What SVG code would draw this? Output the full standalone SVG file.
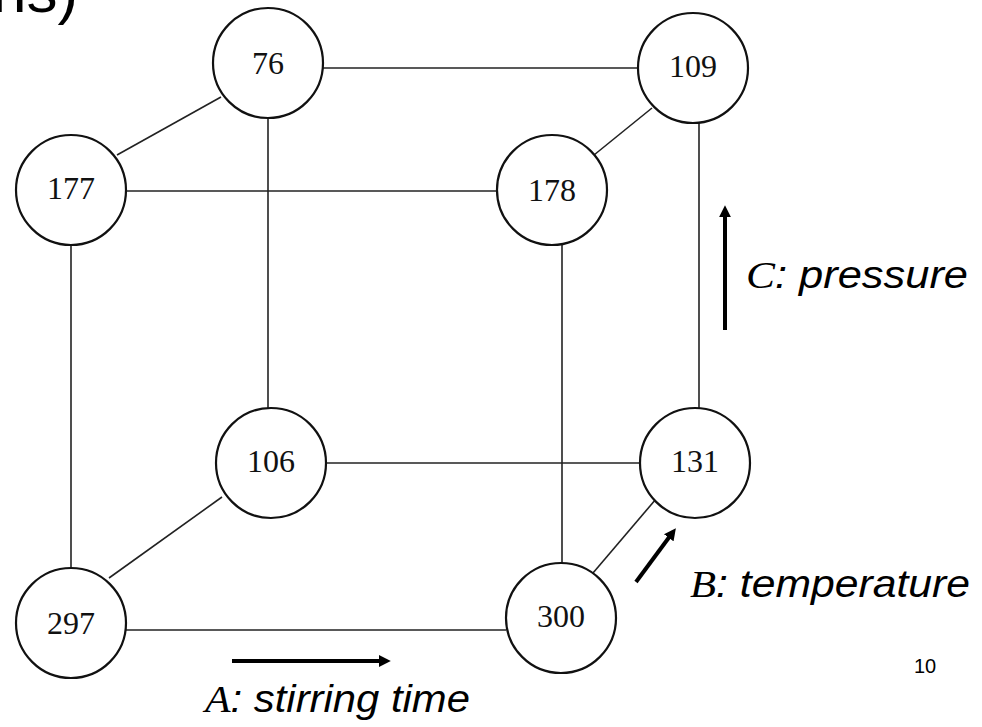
<svg xmlns="http://www.w3.org/2000/svg" width="982" height="727" viewBox="0 0 982 727">
<defs>
<style>
.node circle{fill:#fff;stroke:#111;stroke-width:2.2}
.node text{font-family:"Liberation Serif",serif;font-size:32px;fill:#111;text-anchor:middle;dominant-baseline:central}
.edge{stroke:#222;stroke-width:1.6;fill:none}
.axis{stroke:#000;stroke-width:4;fill:none}
.lbl{font-family:"Liberation Sans",Arial,sans-serif;font-style:italic;font-size:38px;fill:#000}
.var{font-family:"Liberation Serif",serif;font-style:italic}
</style>
<marker id="ah" viewBox="0 0 10 10" refX="6" refY="5" markerWidth="3" markerHeight="3" orient="auto" markerUnits="strokeWidth">
<path d="M0,0 L10,5 L0,10 z" fill="#000"/>
</marker>
</defs>
<rect width="982" height="727" fill="#fff"/>
<text x="-8" y="12" font-family="Liberation Sans,Arial,sans-serif" font-size="62" fill="#000">ns)</text>
<g id="connectors">
<line class="edge" x1="323" y1="68" x2="638" y2="68"/>
<line class="edge" x1="221" y1="97" x2="117" y2="155"/>
<line class="edge" x1="268" y1="118" x2="268" y2="408"/>
<line class="edge" x1="126" y1="191" x2="497" y2="191"/>
<line class="edge" x1="594" y1="155" x2="652" y2="108"/>
<line class="edge" x1="699" y1="123" x2="699" y2="408"/>
<line class="edge" x1="562" y1="245" x2="562" y2="563"/>
<line class="edge" x1="71" y1="245" x2="71" y2="568"/>
<line class="edge" x1="326" y1="463" x2="641" y2="463"/>
<line class="edge" x1="222" y1="497" x2="109" y2="578"/>
<line class="edge" x1="656" y1="499" x2="593" y2="573"/>
<line class="edge" x1="126" y1="630" x2="506" y2="630"/>
<line class="axis" x1="232" y1="661" x2="386" y2="661" marker-end="url(#ah)"/>
<line class="axis" x1="725" y1="330" x2="725" y2="210" marker-end="url(#ah)"/>
<line class="axis" x1="636" y1="582" x2="673" y2="532" marker-end="url(#ah)"/>
</g>
<g id="n76" class="node"><circle cx="268" cy="63" r="55"/><text x="268" y="63">76</text></g>
<g id="n109" class="node"><circle cx="693" cy="68" r="55"/><text x="693" y="66">109</text></g>
<g id="n177" class="node"><circle cx="71" cy="190" r="55"/><text x="71" y="188">177</text></g>
<g id="n178" class="node"><circle cx="552" cy="190" r="55"/><text x="552" y="190">178</text></g>
<g id="n106" class="node"><circle cx="271" cy="463" r="55"/><text x="271" y="461">106</text></g>
<g id="n131" class="node"><circle cx="695" cy="463" r="55"/><text x="695" y="461">131</text></g>
<g id="n297" class="node"><circle cx="71" cy="623" r="55"/><text x="71" y="623">297</text></g>
<g id="n300" class="node"><circle cx="561" cy="618" r="55"/><text x="561" y="616">300</text></g>
<text class="lbl" x="746" y="288" textLength="222" lengthAdjust="spacingAndGlyphs"><tspan class="var">C</tspan>: pressure</text>
<text class="lbl" x="690" y="597" textLength="280" lengthAdjust="spacingAndGlyphs"><tspan class="var">B</tspan>: temperature</text>
<text class="lbl" x="205" y="712" textLength="265" lengthAdjust="spacingAndGlyphs"><tspan class="var">A</tspan>: stirring time</text>
<text x="925" y="673" font-family="Liberation Sans,Arial,sans-serif" font-size="20" text-anchor="middle" fill="#000">10</text>
</svg>
